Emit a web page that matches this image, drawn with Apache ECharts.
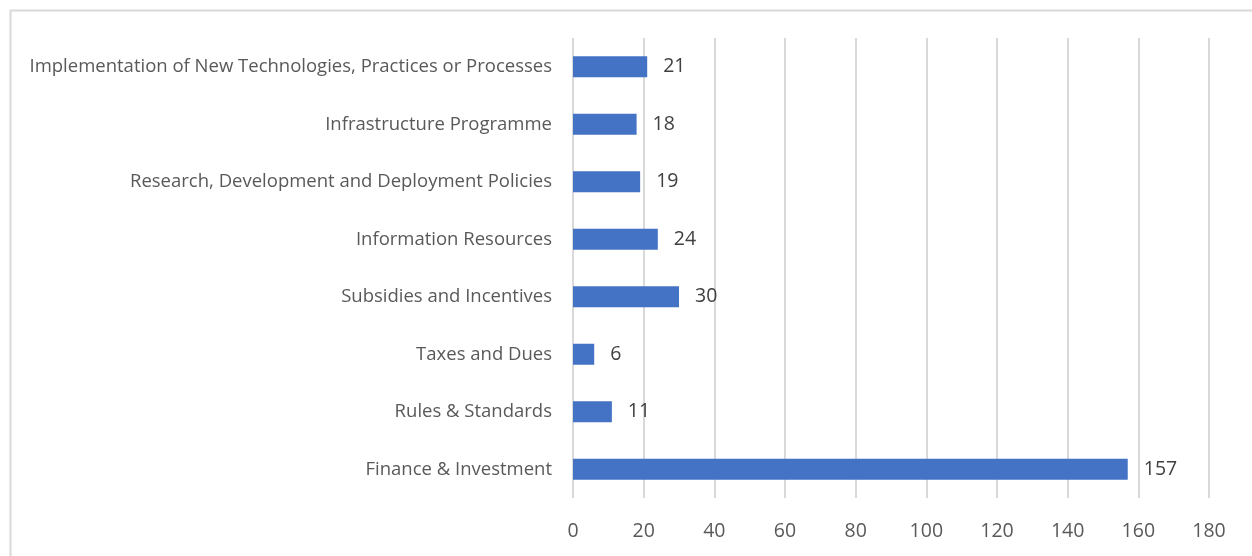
<!DOCTYPE html>
<html><head><meta charset="utf-8">
<script src="https://cdn.jsdelivr.net/npm/echarts@6/dist/echarts.min.js"></script>
<style>html,body{margin:0;padding:0;background:#fff}#c{width:1252px;height:556px}</style>
</head><body><div id="c"></div>
<script>
const categories = [
  "Implementation of New Technologies, Practices or Processes",
  "Infrastructure Programme",
  "Research, Development and Deployment Policies",
  "Information Resources",
  "Subsidies and Incentives",
  "Taxes and Dues",
  "Rules & Standards",
  "Finance & Investment"
];
const values = [21, 18, 19, 24, 30, 6, 11, 157];
const xTicks = { min: 0, max: 180, interval: 20 };

const chart = echarts.init(document.getElementById('c'));
chart.setOption({
  animation: false,
  backgroundColor: '#fff',
  graphic: [{
    type: 'rect', left: 8, top: 8, shape: { width: 1270, height: 600 },
    style: { fill: 'none', stroke: '#d9d9d9', lineWidth: 2 }, silent: true
  }],
  grid: { left: 573, right: 43, top: 38, bottom: 58, containLabel: false },
  xAxis: {
    type: 'value', min: xTicks.min, max: xTicks.max, interval: xTicks.interval,
    axisLine: { show: false }, axisTick: { show: false },
    splitLine: { show: true, lineStyle: { color: '#d9d9d9', width: 2 } },
    axisLabel: { fontFamily: 'Open Sans', fontSize: 19.5, color: '#595959', margin: 23 }
  },
  yAxis: {
    type: 'category', data: categories, inverse: true,
    axisLine: { show: false }, axisTick: { show: false },
    axisLabel: { fontFamily: 'Open Sans', fontSize: 18.5, color: '#595959', margin: 21 }
  },
  series: [{
    type: 'bar', data: values, barWidth: 21,
    itemStyle: { color: '#4472C4' },
    label: { show: true, position: 'right', distance: 16, fontFamily: 'Open Sans', fontSize: 19.5, color: '#404040' }
  }]
});
</script></body></html>
